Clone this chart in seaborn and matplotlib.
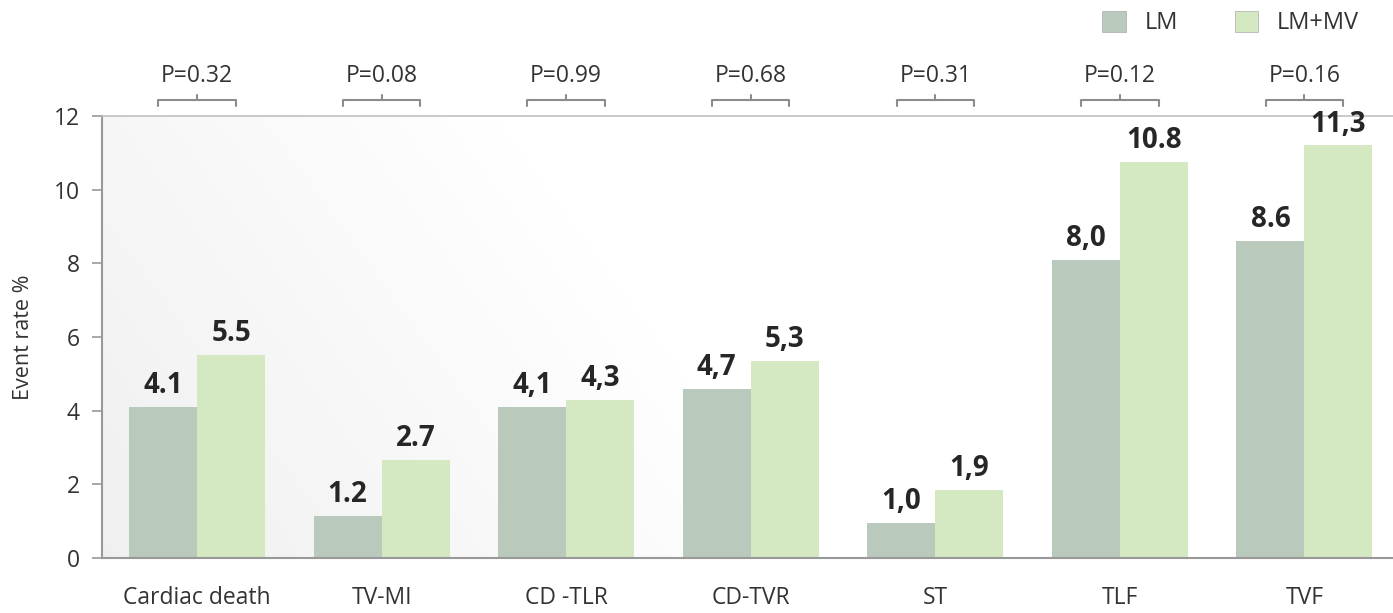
import numpy as np
import pandas as pd
import matplotlib
matplotlib.use("Agg")
import matplotlib.pyplot as plt
import seaborn as sns
from matplotlib.patches import Patch

# data
categories = ["Cardiac death", "TV-MI", "CD -TLR", "CD-TVR", "ST", "TLF", "TVF"]
lm = [4.1, 1.15, 4.1, 4.6, 0.95, 8.1, 8.6]
lm_mv = [5.5, 2.65, 4.3, 5.35, 1.85, 10.75, 11.2]
lm_labels = ["4.1", "1.2", "4,1", "4,7", "1,0", "8,0", "8.6"]
lm_mv_labels = ["5.5", "2.7", "4,3", "5,3", "1,9", "10.8", "11,3"]
p_values = ["P=0.32", "P=0.08", "P=0.99", "P=0.68", "P=0.31", "P=0.12", "P=0.16"]
groups = ["LM", "LM+MV"]
colors = ["#b9c9bb", "#d4e8c2"]

df = pd.DataFrame({
    "category": categories * 2,
    "value": lm + lm_mv,
    "group": [groups[0]] * len(categories) + [groups[1]] * len(categories),
})

sns.set_style("white")
plt.rcParams["font.family"] = ["Open Sans", "DejaVu Sans"]

fig = plt.figure(figsize=(13.93, 6.13), dpi=100)
ax = fig.add_axes([0.0732, 0.0897, 0.9268, 0.7211])

# light gradient background, grey at left fading to white
grad = np.linspace(0, 1, 256)
xx, yy = np.meshgrid(grad, grad)
g = np.clip((xx * 1.0 + (1 - yy) * 0.25) / 0.55, 0, 1)
img = np.dstack([0.94 + 0.06 * g] * 3)
ax.imshow(img, extent=[0, 1, 0, 1], transform=ax.transAxes, aspect="auto",
          zorder=0, origin="upper")

sns.barplot(data=df, x="category", y="value", hue="group", palette=colors,
            width=0.737, saturation=1, ax=ax, legend=False, zorder=2,
            linewidth=0)

for cont, labs in zip(ax.containers, [lm_labels, lm_mv_labels]):
    ax.bar_label(cont, labels=labs, padding=5, fontsize=20, fontweight="bold",
                 color="#262626")

ax.set_xlim(-0.515, 6.48)
ax.set_ylim(0, 12)
ax.set_yticks(range(0, 13, 2))
ax.set_xlabel("")
ax.set_ylabel("Event rate %", fontsize=15.5, color="#333333", labelpad=14)
ax.tick_params(axis="y", labelsize=16.5, colors="#333333", length=7, width=1.2,
               color="#999999", left=True, pad=9)
ax.tick_params(axis="x", labelsize=16.5, colors="#333333", length=0, pad=20)

for s in ["left", "bottom"]:
    ax.spines[s].set_color("#999999")
    ax.spines[s].set_linewidth(1.5)
ax.spines["top"].set_color("#c0c0c0")
ax.spines["top"].set_linewidth(1.2)
ax.spines["right"].set_visible(False)

# p-value brackets above the axes
trans = ax.get_xaxis_transform()
half = 0.21
for i, p in enumerate(p_values):
    yb = 1.036
    ax.plot([i - half, i - half, i + half, i + half],
            [yb - 0.0136, yb, yb, yb - 0.0136], transform=trans,
            color="#8c8c8c", lw=1.5, clip_on=False)
    ax.plot([i, i], [yb, yb + 0.011], transform=trans, color="#8c8c8c",
            lw=1.5, clip_on=False)
    ax.text(i, 1.09, p, transform=trans, ha="center", va="center",
            fontsize=16.5, color="#333333")

handles = [Patch(facecolor=c, edgecolor="#aaaaaa", linewidth=0.5) for c in colors]
fig.legend(handles, groups, loc="upper right", bbox_to_anchor=(0.991, 1.017),
           ncol=2, frameon=False, fontsize=17, handlelength=1.0,
           handleheight=1.0, columnspacing=2.4, handletextpad=0.8,
           labelcolor="#333333")

fig.savefig("out.png", dpi=100)
